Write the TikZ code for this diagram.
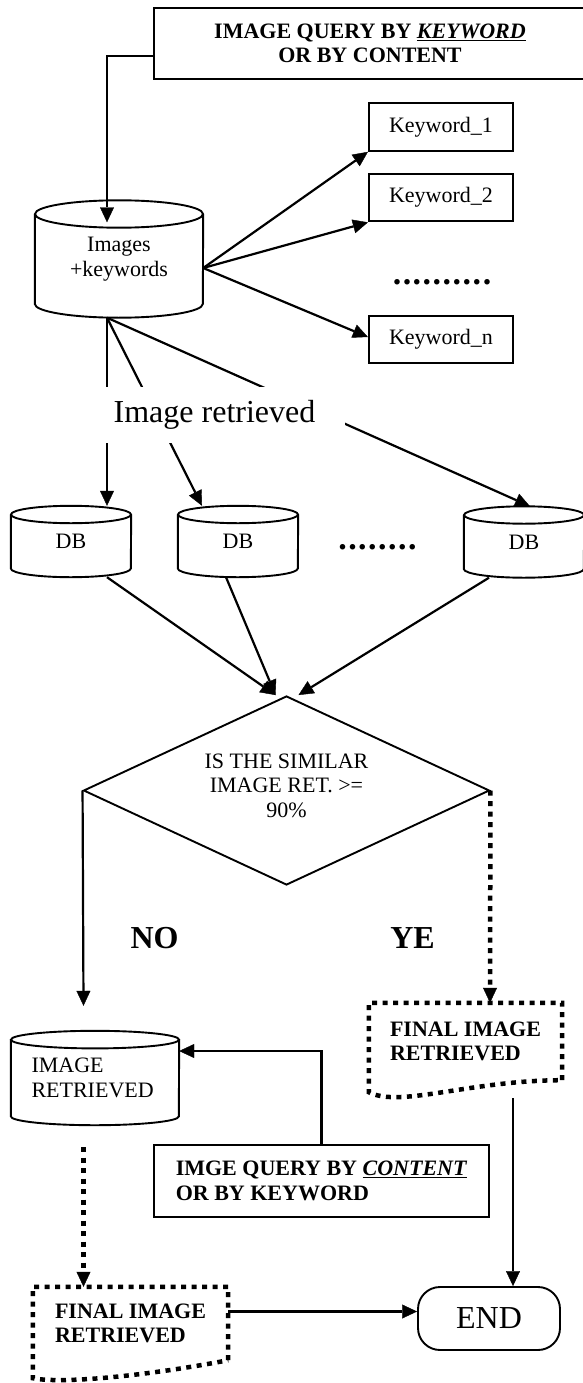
\documentclass[tikz,border=0pt]{standalone}
\usepackage{fontspec}
\setmainfont{Liberation Serif}
\usetikzlibrary{arrows.meta,shapes.geometric,calc}
\newcommand\cylframe[3]{%
  \draw[cylline] ([yshift=-#3pt]#1.north west) -- ([yshift=#3pt]#1.south west)
     arc[start angle=180,end angle=360,x radius=#2pt,y radius=#3pt]
     -- ([yshift=-#3pt]#1.north east);
  \draw[cylline] ([yshift=-#3pt]#1.north) ellipse[x radius=#2pt,y radius=#3pt];}
\newcommand\dotrow[1]{\foreach \i in {1,...,#1}{\makebox[10pt]{.}}}
\tikzset{
  base/.style={font=\fontsize{22}{24.5}\selectfont},
  big/.style={font=\fontsize{32}{36}\selectfont},
  boxq/.style={draw, line width=2.2pt, inner sep=0pt, base},
  kwbox/.style={draw, line width=2.2pt, inner sep=0pt, minimum width=144pt, minimum height=47.5pt, base},
  cylbody/.style={inner sep=0pt, base, align=center},
  cylline/.style={line width=1.9pt},
  tipstyle/.style={-{Triangle[length=15pt,width=14pt,line width=0.4pt]}},
  conn/.style={line width=2.2pt, tipstyle},
  dotbox/.style={line width=4.5pt, dash pattern=on 5pt off 5.5pt},
  dotline/.style={dotbox, tipstyle},
  dotsrow/.style={inner sep=0pt, font=\fontsize{34}{36}\selectfont\bfseries},
}
\begin{document}
\begin{tikzpicture}[x=1pt,y=1pt]
\useasboundingbox (0,0) rectangle (582,-1383);

% top query box
\node[boxq, align=center, minimum width=432pt, minimum height=71pt] (q1) at (370,-43.5)
  {\textbf{IMAGE QUERY BY \underline{\textit{KEYWORD}}}\\ \textbf{OR BY CONTENT}};

% images + keywords cylinder
\node[cylbody, minimum width=168pt, minimum height=117pt] (c1) at (119,-259) {Images\\+keywords};
\cylframe{c1}{84}{13.7}

% keyword boxes
\node[kwbox] (k1) at (441,-127) {Keyword\_1};
\node[kwbox] (k2) at (441,-197.5) {Keyword\_2};
\node[kwbox] (kn) at (441,-339.5) {Keyword\_n};
\node[dotsrow] (kdots) at (442,-282) {\dotrow{10}};

\draw[conn] ([yshift=-12.5pt]q1.west) -| ([xshift=-12pt,yshift=-22pt]c1.north);
\draw[conn] ([yshift=-9pt]c1.east) -- (k1.south west);
\draw[conn] ([yshift=-9pt]c1.east) -- (k2.south west);
\draw[conn] ([yshift=-9pt]c1.east) -- ([yshift=2.5pt]kn.west);

% DB cylinders
\node[cylbody, minimum width=120pt, minimum height=71pt] (db1) at (71,-541.5) {DB};
\cylframe{db1}{60}{8.7}
\node[cylbody, minimum width=120pt, minimum height=71pt] (db2) at (238,-541.5) {DB};
\cylframe{db2}{60}{8.7}
\node[cylbody, minimum width=120pt, minimum height=71pt] (db3) at (524,-542) {DB};
\cylframe{db3}{60}{8.7}
\node[dotsrow] (dbdots) at (377.5,-547) {\dotrow{8}};

\draw[conn] ([xshift=-12pt]c1.south) -- ([xshift=36pt]db1.north);
\draw[conn] ([xshift=-12pt]c1.south) -- ([xshift=-36pt]db2.north);
\draw[conn] ([xshift=-12pt]c1.south) -- ([xshift=6pt]db3.north);
\node[big, fill=white, inner sep=0pt, minimum width=261pt, minimum height=56pt] (ir) at (214.5,-415) {Image retrieved};

% decision
\node[diamond, draw, line width=1.9pt, aspect=2.15, minimum width=406pt, minimum height=189pt,
      inner sep=0pt, base, align=center] (dec) at (286.5,-790.5)
  {IS THE SIMILAR\\IMAGE RET. >=\\90\%\\[-14.5pt]};
\draw[conn] ([xshift=36pt]db1.south) -- ([xshift=-11pt]dec.north);
\draw[conn] ([xshift=-12pt]db2.south) -- ([xshift=-11pt]dec.north);
\draw[conn] ([xshift=-35pt]db3.south) -- ([xshift=12pt]dec.north);

\node[big] (no) at (154.5,-938) {\textbf{NO}};
\node[big] (ye) at (412.5,-938) {\textbf{YE}};

% image retrieved cylinder
\node[cylbody, minimum width=168pt, minimum height=94pt, text width=127pt, align=left] (ir2) at (95,-1078)
  {IMAGE\\RETRIEVED};
\cylframe{ir2}{84}{8.8}
\draw[conn] (dec.west) -- ([xshift=-11.5pt,yshift=25pt]ir2.north);

% final image (right)
\node[inner sep=0pt, minimum width=193pt, minimum height=77pt, base, align=left] (fin1) at (465.5,-1041.5)
  {\textbf{FINAL IMAGE}\\\textbf{RETRIEVED}};
\draw[dotbox] (fin1.south east) -- (fin1.north east) -- (fin1.north west) -- ([yshift=-12pt]fin1.south west)
  .. controls +(31pt,-16pt) and +(-92pt,0pt) .. (fin1.south east);
\draw[dotline] (dec.east) -- ([xshift=24.5pt]fin1.north);

% second query box
\node[boxq, align=left, minimum width=335pt, minimum height=72pt] (q2) at (321.5,-1181)
  {\textbf{IMGE QUERY BY \underline{\textit{CONTENT}}}\\\textbf{OR BY KEYWORD}};
\draw[conn] (q2.north) |- ([yshift=27pt]ir2.east);

% final image (left)
\node[inner sep=0pt, minimum width=195pt, minimum height=73pt, base, align=left] (fin2) at (130.5,-1323.5)
  {\textbf{FINAL IMAGE}\\\textbf{RETRIEVED}};
\draw[dotbox] (fin2.south east) -- (fin2.north east) -- (fin2.north west) -- ([yshift=-18pt]fin2.south west)
  .. controls +(30pt,-6pt) and +(-78pt,-15pt) .. (fin2.south east);
\draw[dotline] ([xshift=-11.5pt,yshift=-22pt]ir2.south) -- ([xshift=-47pt]fin2.north);

% end
\node[draw, line width=1.9pt, rounded corners=22pt, minimum width=142pt, minimum height=63pt, big] (end) at (489,-1318.5) {END};
\draw[conn] ([xshift=47.5pt,yshift=-18pt]fin1.south) -- ([xshift=24pt]end.north);
\draw[conn] ([yshift=12pt]fin2.east) -- ([yshift=7pt]end.west);
\end{tikzpicture}
\end{document}
